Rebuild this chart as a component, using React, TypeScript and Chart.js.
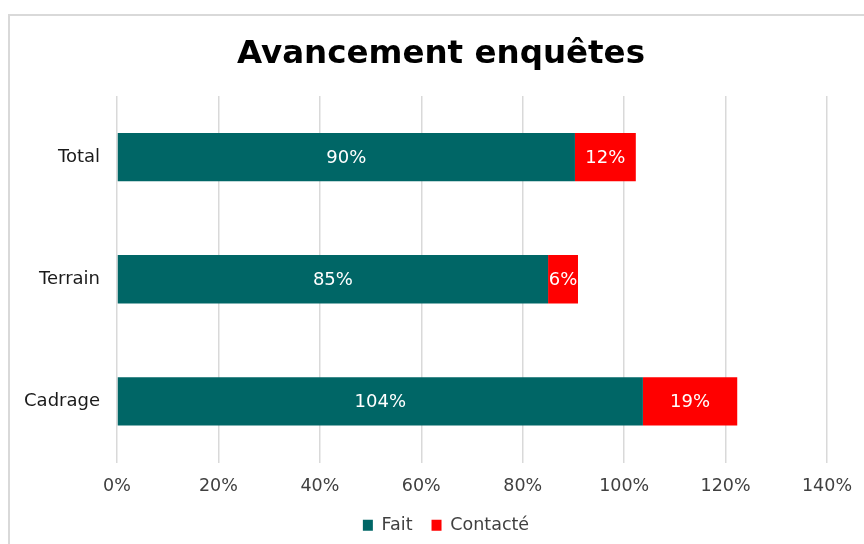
import React, { useEffect, useRef } from 'react';
import { Chart, registerables } from 'chart.js';

Chart.register(...registerables);

const categories = ['Total', 'Terrain', 'Cadrage'];
const faitValues = [90.3, 85.0, 103.7];
const contacteValues = [12.0, 5.9, 18.6];
const faitLabels = ['90%', '85%', '104%'];
const contacteLabels = ['12%', '6%', '19%'];
const xMin = 0;
const xMax = 140;
const xStep = 20;

const FONT = "'DejaVu Sans', Verdana, sans-serif";
const LEGEND_PAD = 7;
const LEGEND_GAP = 19;
const LEGEND_SHIFT_X = -7;

export default function App() {
  const ref = useRef<HTMLCanvasElement>(null);
  useEffect(() => {
    const canvas = ref.current!;
    const labelPlugin = {
      id: 'barLabels',
      afterDatasetsDraw(chart: any) {
        const c = chart.ctx;
        c.save();
        c.font = `18px ${FONT}`;
        c.fillStyle = '#ffffff';
        c.textAlign = 'center';
        c.textBaseline = 'middle';
        chart.data.datasets.forEach((ds: any, di: number) => {
          const meta = chart.getDatasetMeta(di);
          const texts = di === 0 ? faitLabels : contacteLabels;
          meta.data.forEach((el: any, i: number) => {
            const p = el.getProps(['x', 'y', 'base'], true);
            c.fillText(texts[i], (p.x + p.base) / 2, p.y + 1);
          });
        });
        c.restore();
      },
    };
    // widen the horizontal gap between legend items without changing its height
    const legendGapPlugin = {
      id: 'legendGap',
      beforeDraw(chart: any) {
        const lg = chart.legend;
        if (!lg) return;
        const shift = LEGEND_GAP - LEGEND_PAD;
        lg.top -= shift;
        lg.left += LEGEND_SHIFT_X;
        lg.right += LEGEND_SHIFT_X;
        lg.options.labels.padding = LEGEND_GAP;
      },
      afterDraw(chart: any) {
        const lg = chart.legend;
        if (!lg) return;
        const shift = LEGEND_GAP - LEGEND_PAD;
        lg.top += shift;
        lg.left -= LEGEND_SHIFT_X;
        lg.right -= LEGEND_SHIFT_X;
        lg.options.labels.padding = LEGEND_PAD;
      },
    };
    const chart = new Chart(canvas, {
      type: 'bar',
      data: {
        labels: categories,
        datasets: [
          {
            label: 'Fait',
            data: faitValues,
            backgroundColor: '#006666',
            barPercentage: 0.395,
            categoryPercentage: 1,
          },
          {
            label: 'Contacté',
            data: contacteValues,
            backgroundColor: '#ff0000',
            barPercentage: 0.395,
            categoryPercentage: 1,
          },
        ],
      },
      options: {
        indexAxis: 'y',
        responsive: false,
        animation: false,
        layout: { padding: { top: 22, left: 0, right: 0, bottom: 0 } },
        scales: {
          x: {
            stacked: true,
            min: xMin,
            max: xMax,
            ticks: {
              stepSize: xStep,
              callback: (v: any) => v + '%',
              color: '#404040',
              font: { family: FONT, size: 17.5 },
              padding: 13,
            },
            grid: { color: '#d9d9d9', lineWidth: 1.5, drawTicks: false },
            border: { display: false },
          },
          y: {
            stacked: true,
            grid: { display: false, drawTicks: false },
            border: { display: false },
            ticks: {
              color: '#1a1a1a',
              font: { family: FONT, size: 18 },
              padding: 17,
            },
            afterFit: (s: any) => {
              s.width = 117;
            },
          },
          yRight: {
            type: 'linear',
            position: 'right',
            display: true,
            grid: { display: false, drawTicks: false },
            border: { display: false },
            ticks: { display: false },
            afterFit: (s: any) => {
              s.width = 55;
            },
          },
        },
        plugins: {
          title: {
            display: true,
            text: 'Avancement enquêtes',
            color: '#000000',
            font: { family: FONT, size: 32.5, weight: 'bold' },
            padding: { top: 13, bottom: 22 },
          },
          legend: {
            position: 'bottom',
            labels: {
              boxWidth: 10,
              boxHeight: 11,
              color: '#404040',
              font: { family: FONT, size: 17.5 },
              padding: LEGEND_PAD,
            },
          },
          tooltip: { enabled: false },
        },
      },
      plugins: [labelPlugin, legendGapPlugin],
    } as any);
    return () => chart.destroy();
  }, []);

  return (
    <div>
      <div
        style={{
          position: 'fixed',
          left: 8,
          top: 14,
          width: 920,
          height: 600,
          border: '2px solid #d9d9d9',
          boxSizing: 'border-box',
        }}
      />
      <canvas
        ref={ref}
        width={882}
        height={544}
        style={{ position: 'fixed', left: 0, top: 0, display: 'block' }}
      />
    </div>
  );
}
